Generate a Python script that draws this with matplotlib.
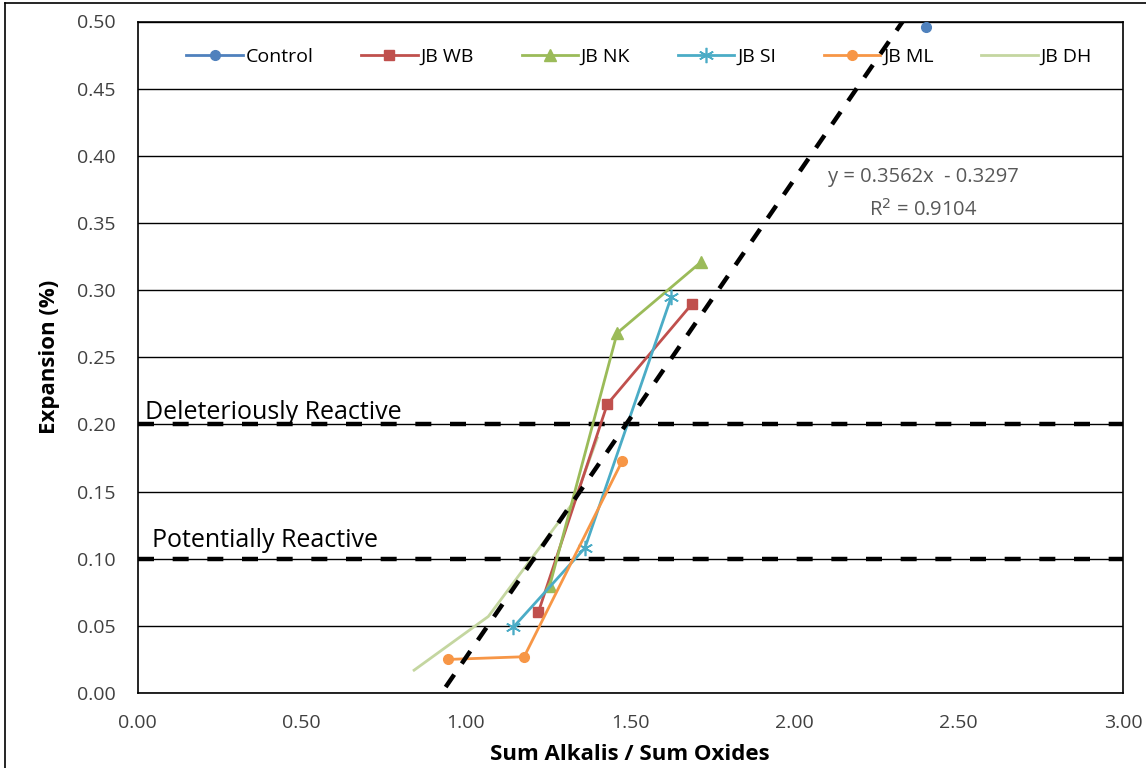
import matplotlib
matplotlib.use("Agg")
import matplotlib.pyplot as plt
import numpy as np
from matplotlib.lines import Line2D

plt.rcParams['font.family'] = ['Open Sans', 'DejaVu Sans']

# ---- data ----
control_x = [2.40]
control_y = [0.496]
wb_x = [1.220, 1.430, 1.689]
wb_y = [0.060, 0.215, 0.290]
nk_x = [1.255, 1.460, 1.716]
nk_y = [0.080, 0.268, 0.321]
si_x = [1.144, 1.362, 1.625]
si_y = [0.049, 0.108, 0.295]
ml_x = [0.946, 1.177, 1.476]
ml_y = [0.025, 0.027, 0.173]
dh_x = [0.842, 1.068, 1.330, 1.400]
dh_y = [0.017, 0.057, 0.143, 0.190]

limit_x = [0.0, 3.0]
deleterious_y = [0.20, 0.20]
potential_y = [0.10, 0.10]

trend_slope = 0.3562
trend_intercept = -0.3297
trend_r2 = 0.9104
trend_x = [0.84, 2.40]

x_ticks = [0.0, 0.5, 1.0, 1.5, 2.0, 2.5, 3.0]
y_ticks = [0.0, 0.05, 0.10, 0.15, 0.20, 0.25, 0.30, 0.35, 0.40, 0.45, 0.50]

colors = {
    'Control': '#4F81BD', 'JB WB': '#C0504D', 'JB NK': '#9BBB59',
    'JB SI': '#4BACC6', 'JB ML': '#F79646', 'JB DH': '#C4D6A0',
}

fig = plt.figure(figsize=(11.46, 7.68), dpi=100)
ax = fig.add_axes([137.5/1146, 1-693/768, (1123-137.5)/1146, (693-21.5)/768])

# gridlines
ax.set_axisbelow(True)
ax.yaxis.grid(True, color='black', linewidth=1.0)
ax.xaxis.grid(False)

lw = 2.0
ax.plot(dh_x, dh_y, color=colors['JB DH'], lw=lw, label='JB DH', zorder=4)
ax.plot(control_x, control_y, color=colors['Control'], marker='o', ms=7, lw=lw, label='Control', zorder=5)
ax.plot(wb_x, wb_y, color=colors['JB WB'], marker='s', ms=7.5, lw=lw, label='JB WB', zorder=5)
ax.plot(nk_x, nk_y, color=colors['JB NK'], marker='^', ms=8.5, lw=lw, label='JB NK', zorder=5)
ax.plot(si_x, si_y, color=colors['JB SI'], marker=(6, 2, 0), ms=11, mew=1.2, lw=lw, label='JB SI', zorder=5)
ax.plot(ml_x, ml_y, color=colors['JB ML'], marker='o', ms=7, lw=lw, label='JB ML', zorder=5)

# limit lines
ax.plot(limit_x, deleterious_y, color='black', lw=3.2, dashes=(3.6, 4.2), zorder=3, clip_on=False)
ax.plot(limit_x, potential_y, color='black', lw=3.2, dashes=(3.6, 4.2), zorder=3, clip_on=False)

# trendline
tx = np.array(trend_x)
ax.plot(tx, trend_slope*tx + trend_intercept, color='black', lw=3.2, dashes=(3.4, 3.0), zorder=6)

ax.text(2.392, 0.384, 'y = 0.3562x  - 0.3297', color='#595959', fontsize=14.5, ha='center', va='center')
ax.text(2.392, 0.360, 'R$^2$ = 0.9104', color='#595959', fontsize=14.5, ha='center', va='center')

ax.text(0.022, 0.2037, 'Deleteriously Reactive', fontsize=18, ha='left', va='baseline')
ax.text(0.044, 0.1085, 'Potentially Reactive', fontsize=18, ha='left', va='baseline')

ax.set_xlim(0, 3)
ax.set_ylim(0, 0.5)
ax.set_xticks(x_ticks)
ax.set_yticks(y_ticks)
ax.set_xticklabels([f'{v:.2f}' for v in x_ticks], fontsize=14)
ax.set_yticklabels([f'{v:.2f}' for v in y_ticks], fontsize=14)
ax.tick_params(axis='both', length=0)
ax.tick_params(axis='x', pad=15)
ax.tick_params(axis='y', pad=16)
for t in ax.get_xticklabels() + ax.get_yticklabels():
    t.set_color('#404040')
for s in ax.spines.values():
    s.set_color('black')
    s.set_linewidth(1.2)

ax.set_xlabel('Sum Alkalis / Sum Oxides', fontsize=16, fontweight='bold', labelpad=9)
ax.set_ylabel('Expansion (%)', fontsize=16, fontweight='bold', labelpad=12)

handles, labels = ax.get_legend_handles_labels()
order = ['Control', 'JB WB', 'JB NK', 'JB SI', 'JB ML', 'JB DH']
hmap = dict(zip(labels, handles))
leg = ax.legend([hmap[k] for k in order], order, loc='center', bbox_to_anchor=(0.509, 0.947),
                ncol=6, frameon=False, fontsize=14, handlelength=2.9, columnspacing=2.45,
                handletextpad=0.15)

# figure border (left and top)
fig.add_artist(Line2D([5/1146, 5/1146], [0, 1-3/768], transform=fig.transFigure, color='black', lw=1.2))
fig.add_artist(Line2D([5/1146, 1], [1-3/768, 1-3/768], transform=fig.transFigure, color='black', lw=1.2))

fig.savefig('out.png', dpi=100, facecolor='white')
